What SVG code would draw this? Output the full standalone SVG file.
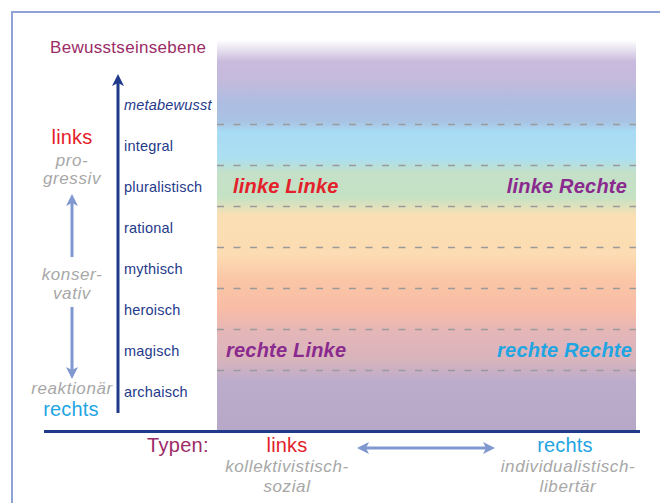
<svg xmlns="http://www.w3.org/2000/svg" width="660" height="503" viewBox="0 0 660 503">
<defs>
<linearGradient id="band" x1="0" y1="40" x2="0" y2="430" gradientUnits="userSpaceOnUse">
<stop offset="0" stop-color="#ffffff"/>
<stop offset="0.055" stop-color="#c9bbdd"/>
<stop offset="0.105" stop-color="#c4badc"/>
<stop offset="0.16" stop-color="#adbde2"/>
<stop offset="0.21" stop-color="#a9c3e3"/>
<stop offset="0.235" stop-color="#a8dbf5"/>
<stop offset="0.305" stop-color="#acdff0"/>
<stop offset="0.34" stop-color="#c4e0c8"/>
<stop offset="0.405" stop-color="#c6e2c4"/>
<stop offset="0.45" stop-color="#fbdfb4"/>
<stop offset="0.55" stop-color="#fcdcb2"/>
<stop offset="0.615" stop-color="#fac6a6"/>
<stop offset="0.69" stop-color="#f8bca6"/>
<stop offset="0.75" stop-color="#e4b6b8"/>
<stop offset="0.82" stop-color="#d8b4bc"/>
<stop offset="0.875" stop-color="#bcaccc"/>
<stop offset="1" stop-color="#b8a8c8"/>
</linearGradient>
<marker id="headDark" markerWidth="12" markerHeight="12" viewBox="0 0 12 12" refX="6" refY="6" orient="auto" markerUnits="userSpaceOnUse">
<path d="M0,0 L12,6 L0,12 L3,6 Z" fill="#1f3a8a"/>
</marker>
<marker id="headLight" markerWidth="12" markerHeight="12" viewBox="0 0 12 12" refX="6" refY="6" orient="auto" markerUnits="userSpaceOnUse">
<path d="M0,0 L12,6 L0,12 L3,6 Z" fill="#8098d0"/>
</marker>
<marker id="headLightS" markerWidth="12" markerHeight="12" viewBox="0 0 12 12" refX="6" refY="6" orient="auto-start-reverse" markerUnits="userSpaceOnUse">
<path d="M0,0 L12,6 L0,12 L3,6 Z" fill="#8098d0"/>
</marker>
</defs>
<style>
text{font-family:"Liberation Sans",Arial,sans-serif}
.lvl{font-size:14.5px;fill:#1f3a8a;letter-spacing:0.2px}
.gray{font-size:17px;fill:#a7a7a7;font-style:italic;letter-spacing:0.6px}
.dash{stroke:#9a9a9a;stroke-width:1.4;stroke-dasharray:7 9.5;fill:none}
.band{font-size:20px;font-weight:bold;font-style:italic;letter-spacing:0.2px}
.big{font-size:20px;letter-spacing:0.2px}
.mid{text-anchor:middle}
</style>
<rect x="0" y="0" width="660" height="503" fill="#ffffff"/>
<path d="M12,503 V12 H660" fill="none" stroke="#8fa3d6" stroke-width="2"/>
<g id="bands">
<rect x="217" y="40" width="419" height="390" fill="url(#band)"/>
<line class="dash" x1="217" y1="124.5" x2="636" y2="124.5"/>
<line class="dash" x1="217" y1="165.5" x2="636" y2="165.5"/>
<line class="dash" x1="217" y1="206.5" x2="636" y2="206.5"/>
<line class="dash" x1="217" y1="247.5" x2="636" y2="247.5"/>
<line class="dash" x1="217" y1="288.5" x2="636" y2="288.5"/>
<line class="dash" x1="217" y1="329.5" x2="636" y2="329.5"/>
<line class="dash" x1="217" y1="370.5" x2="636" y2="370.5"/>
</g>
<g id="connectors">
<line x1="118" y1="413" x2="118" y2="80" stroke="#1f3a8a" stroke-width="3" marker-end="url(#headDark)"/>
<line x1="44" y1="431.5" x2="640" y2="431.5" stroke="#1f3a8a" stroke-width="3"/>
<line x1="72" y1="257" x2="72" y2="200" stroke="#8098d0" stroke-width="3" marker-end="url(#headLight)"/>
<line x1="72" y1="307" x2="72" y2="373" stroke="#8098d0" stroke-width="3" marker-end="url(#headLight)"/>
<line x1="363" y1="448" x2="489" y2="448" stroke="#8098d0" stroke-width="3" marker-start="url(#headLightS)" marker-end="url(#headLightS)"/>
</g>
<g id="title"><text x="50" y="53" style="font-size:17px;fill:#9b2c66;letter-spacing:0.3px">Bewusstseinsebene</text></g>
<g id="levels">
<text class="lvl" x="124" y="110" style="font-style:italic">metabewusst</text>
<text class="lvl" x="124" y="151">integral</text>
<text class="lvl" x="124" y="192">pluralistisch</text>
<text class="lvl" x="124" y="233">rational</text>
<text class="lvl" x="124" y="274">mythisch</text>
<text class="lvl" x="124" y="315">heroisch</text>
<text class="lvl" x="124" y="356">magisch</text>
<text class="lvl" x="124" y="397">archaisch</text>
</g>
<g id="left-scale">
<text class="big mid" x="72" y="144" style="fill:#e4202a">links</text>
<text class="gray mid" x="72" y="166">pro-</text>
<text class="gray mid" x="72" y="184">gressiv</text>
<text class="gray mid" x="72" y="280">konser-</text>
<text class="gray mid" x="72" y="299">vativ</text>
<text class="gray mid" x="72" y="394">reaktionär</text>
<text class="big mid" x="71" y="416" style="fill:#1ea5e2">rechts</text>
</g>
<g id="quadrants">
<text class="band" x="233" y="193" style="fill:#e4202a">linke Linke</text>
<text class="band" x="627" y="193" text-anchor="end" style="fill:#8b2a8e">linke Rechte</text>
<text class="band" x="226" y="357" style="fill:#8b2a8e">rechte Linke</text>
<text class="band" x="632" y="357" text-anchor="end" style="fill:#1ea5e2">rechte Rechte</text>
</g>
<g id="types">
<text x="147" y="452" style="font-size:20px;fill:#9b2c66;letter-spacing:0.3px">Typen:</text>
<text class="big mid" x="287" y="452" style="fill:#e4202a">links</text>
<text class="gray mid" x="287" y="472">kollektivistisch-</text>
<text class="gray mid" x="287" y="492">sozial</text>
<text class="big mid" x="565" y="452" style="fill:#1ea5e2">rechts</text>
<text class="gray mid" x="568" y="472">individualistisch-</text>
<text class="gray mid" x="568" y="492">libertär</text>
</g>
</svg>
